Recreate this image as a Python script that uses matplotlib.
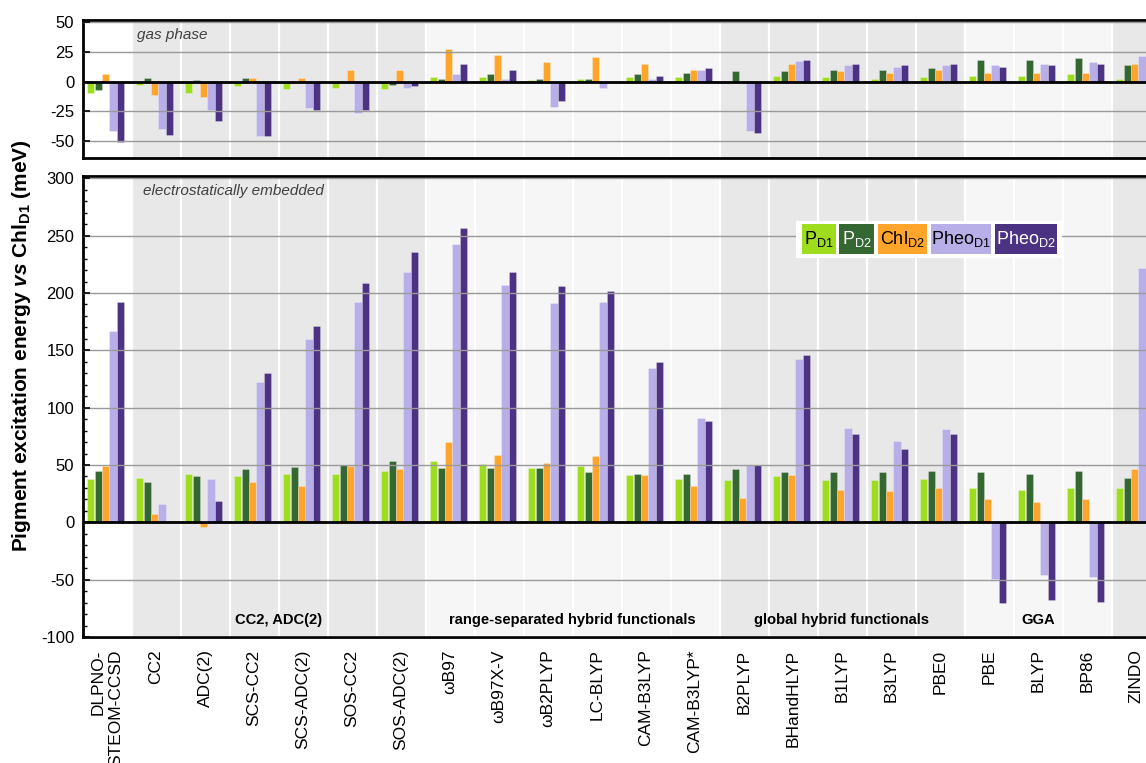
import matplotlib
matplotlib.use("Agg")
import matplotlib.pyplot as plt
import numpy as np
from matplotlib.patches import Rectangle
from matplotlib.ticker import MultipleLocator

plt.rcParams['font.family'] = ['Liberation Sans', 'DejaVu Sans']
plt.rcParams['axes.unicode_minus'] = False
plt.rcParams['mathtext.fontset'] = 'custom'
plt.rcParams['mathtext.rm'] = 'Liberation Sans'
plt.rcParams['mathtext.it'] = 'Liberation Sans:italic'
plt.rcParams['mathtext.bf'] = 'Liberation Sans:bold'
plt.rcParams['mathtext.bfit'] = 'Liberation Sans:bold:italic'

methods = ["DLPNO-\nSTEOM-CCSD", "CC2", "ADC(2)", "SCS-CC2", "SCS-ADC(2)", "SOS-CC2",
           "SOS-ADC(2)", "ωB97", "ωB97X-V", "ωB2PLYP", "LC-BLYP", "CAM-B3LYP",
           "CAM-B3LYP*", "B2PLYP", "BHandHLYP", "B1LYP", "B3LYP", "PBE0", "PBE",
           "BLYP", "BP86", "ZINDO"]

series_names = ["P$_{\\mathrm{D1}}$", "P$_{\\mathrm{D2}}$", "Chl$_{\\mathrm{D2}}$",
                "Pheo$_{\\mathrm{D1}}$", "Pheo$_{\\mathrm{D2}}$"]

# gas phase (meV)
gas_PD1 = [-9.5, -2.5, -10, -4, -6.5, -5, -6.5, 3.5, 3.5, 1, 2.5, 3.5, 3.5, 0, 5, 3.5, 2.5, 3.5, 5, 5, 6, 2.5]
gas_PD2 = [-7.5, 3, 1.5, 3, 0.5, 0.5, -2.5, 2.5, 6, 2.5, 2.5, 6, 7.5, 8.5, 8.5, 10, 10, 11, 18, 18, 19.5, 13.5]
gas_ChlD2 = [6.5, -11, -13, 3, 3, 10, 10, 27.5, 22.5, 16, 20.5, 15, 10, 0, 15, 8.5, 7.5, 10, 7.5, 7.5, 7.5, 15]
gas_PheoD1 = [-41, -40, -23.5, -45.5, -22, -26, -5, 6, 2.5, -21, -5.5, 2.5, 10, -41, 17, 13.5, 12, 13.5, 13.5, 15, 16, 21.5]
gas_PheoD2 = [-51, -44.5, -33, -45.5, -23.5, -23.5, -4, 15, 10, -16.5, 0, 5, 11, -43, 18, 15, 13.5, 15, 12, 13.5, 15, 24]

# electrostatically embedded (meV)
emb_PD1 = [37.5, 38.5, 42, 40, 42, 42.5, 44.5, 53.5, 50.5, 47.5, 49.5, 41.5, 37.5, 37, 40.5, 36.5, 36.5, 37.5, 29.5, 28.5, 29.5, 29.5]
emb_PD2 = [44.5, 35.5, 40, 46.5, 48.5, 50, 53.5, 47.5, 47.5, 47.5, 43.5, 42.5, 42.5, 46.5, 43.5, 43.5, 43.5, 44.5, 43.5, 42.5, 44.5, 38.5]
emb_ChlD2 = [49, 7, -4, 35, 32, 49, 46.5, 70, 59, 51.5, 57.5, 41.5, 31.5, 21.5, 41.5, 28.5, 27.5, 29.5, 20.5, 18, 20, 46.5]
emb_PheoD1 = [167, 16, 37.5, 122, 160, 192, 218, 243, 207, 191, 192, 134.5, 91, 50, 142, 82, 71, 81, -49.5, -45.5, -47.5, 221.5]
emb_PheoD2 = [192, 1.5, 19, 130, 171.5, 209, 235.5, 257, 218, 206, 202, 139.5, 88, 50, 146, 77, 64, 77, -70.5, -68, -69.5, 230]

groups = ["CC2, ADC(2)", "range-separated hybrid functionals", "global hybrid functionals", "GGA"]
group_spans = [(1, 6), (7, 12), (13, 17), (18, 20)]

colors = ["#9edc1e", "#356733", "#ffa52b", "#b8aee8", "#4b3282"]
text_colors = ["black", "white", "black", "black", "white"]

gas = [gas_PD1, gas_PD2, gas_ChlD2, gas_PheoD1, gas_PheoD2]
emb = [emb_PD1, emb_PD2, emb_ChlD2, emb_PheoD1, emb_PheoD2]

W, H = 1146, 763
fig = plt.figure(figsize=(W / 100, H / 100), dpi=100)
left = 82.5 / W
width = 1078 / W
ax_top = fig.add_axes([left, 1 - 158 / H, width, 138 / H])
ax_bot = fig.add_axes([left, 1 - 637 / H, width, 461 / H])

n = len(methods)
x = np.arange(n)
step = 0.152
bw = 0.145

GRAY = "#e8e8e8"
LIGHT = "#f6f6f6"
shade = [(0.5, 6.5, GRAY), (6.5, 12.5, LIGHT), (12.5, 17.5, GRAY), (17.5, 20.5, LIGHT), (20.5, 21.5, GRAY)]

for ax, data in [(ax_top, gas), (ax_bot, emb)]:
    ax.set_xlim(-0.5, n - 0.5)
    for a, b, c in shade:
        ax.axvspan(a, b, color=c, zorder=0, lw=0)
    for k in range(1, n):
        ax.axvline(k - 0.5, color="white", lw=1.6, zorder=0.5)
    for s in range(5):
        ax.bar(x + (s - 2) * step - 0.03, data[s], width=bw, color=colors[s],
               edgecolor=(1, 1, 1, 0.35), linewidth=0.5, zorder=2)
    ax.axhline(0, color="black", lw=2, zorder=3)
    ax.yaxis.grid(True, color="#9a9a9a", lw=1.0, zorder=1)
    ax.set_axisbelow(False)
    for sp in ax.spines.values():
        sp.set_linewidth(2)
    ax.spines['right'].set_visible(False)
    ax.tick_params(axis='y', direction='in', length=5, width=1.2, labelsize=12, pad=6)
    ax.tick_params(axis='y', which='minor', direction='in', length=3, width=1)
    ax.tick_params(axis='x', length=0)

for ax in (ax_top, ax_bot):
    for gl in ax.get_ygridlines():
        gl.set_zorder(1)

ax_top.set_ylim(-64, 51.5)
ax_top.set_yticks([-50, -25, 0, 25, 50])
ax_top.set_xticks([])
ax_top.text(0.62, 39, "gas phase", style="italic", fontsize=11, color="#404040", va="center", ha="left")

ax_bot.set_ylim(-100, 302)
ax_bot.set_yticks([-100, -50, 0, 50, 100, 150, 200, 250, 300])
ax_bot.yaxis.set_minor_locator(MultipleLocator(10))
ax_bot.set_xticks(x)
ax_bot.set_xticklabels(methods, rotation=90, fontsize=12.5, multialignment="right")
ax_bot.tick_params(axis='x', pad=9)
ax_bot.text(0.73, 289, "electrostatically embedded", style="italic", fontsize=11, color="#404040", va="center", ha="left")

for g, (a, b) in zip(groups, group_spans):
    ax_bot.text((a + b) / 2, -85, g, ha="center", va="center", fontsize=10.6,
                fontweight="bold")

def fx(px):
    return (px - 82.5) / 1078
def fy(py):
    return (637 - py) / 461

ax_bot.add_patch(Rectangle((fx(795.7), fy(257.7)), fx(1061.7) - fx(795.7), fy(220.7) - fy(257.7),
                           transform=ax_bot.transAxes, facecolor="white", edgecolor="none", zorder=5))
boxes = [(801.7, 835.7), (838.7, 874.3), (877.7, 927), (931, 991.3), (994.7, 1057.3)]
for s, (a, b) in enumerate(boxes):
    ax_bot.add_patch(Rectangle((fx(a), fy(254)), fx(b) - fx(a), fy(224) - fy(254),
                               transform=ax_bot.transAxes, facecolor=colors[s], edgecolor="none", zorder=6))
    ax_bot.text((fx(a) + fx(b)) / 2, (fy(224) + fy(254)) / 2, series_names[s], transform=ax_bot.transAxes,
                ha="center", va="center", fontsize=13, color=text_colors[s], zorder=7)

fig.text(22 / W, 1 - 346 / H,
         "Pigment excitation energy $\\mathbfit{vs}$ Chl$_{\\mathbf{D1}}$ (meV)",
         rotation=90, ha="center", va="center", fontsize=15, fontweight="bold")

fig.savefig("out.png", dpi=100)
